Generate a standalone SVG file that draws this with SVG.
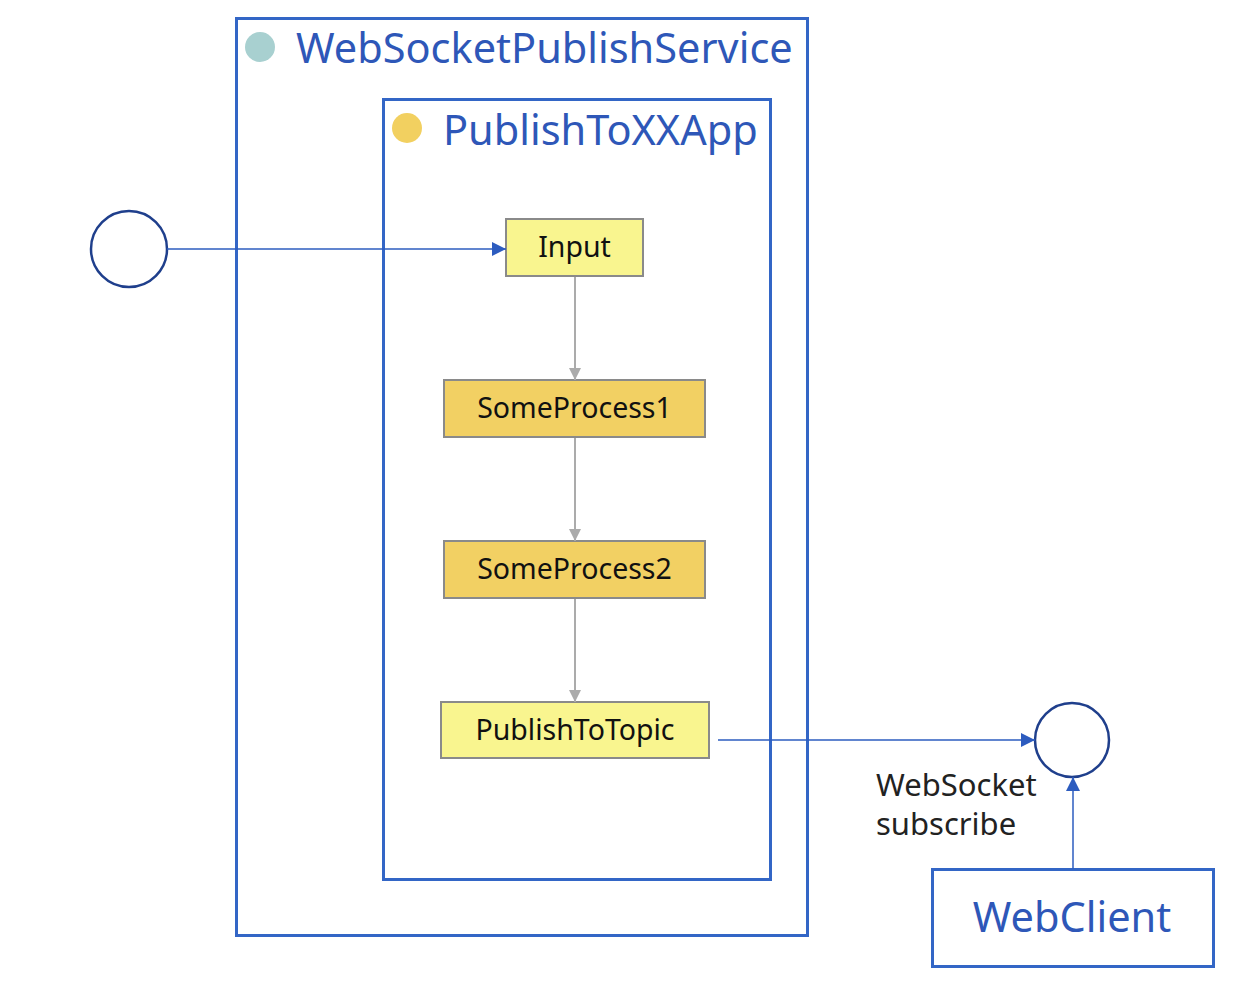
<svg xmlns="http://www.w3.org/2000/svg" width="1250" height="988" viewBox="0 0 1250 988">
<style>
.frame{fill:none;stroke:#3366c6;stroke-width:3}
.title{font-family:"Noto Sans","Open Sans",sans-serif;fill:#2e57b8;font-size:41.5px}
.box{stroke:#8a8a8a;stroke-width:2}
.lbl{font-family:"Noto Sans","Open Sans",sans-serif;font-size:28.5px;fill:#111;text-anchor:middle}
.gray{stroke:#ababab;stroke-width:2;fill:none}
.blue{stroke:#2d5cbf;stroke-width:1.5;fill:none}
.port{fill:#fff;stroke:#1f3f8c;stroke-width:2.5}
.note{font-family:"Noto Sans","Open Sans",sans-serif;font-size:31px;fill:#222}
</style>
<defs>
<marker id="ga" viewBox="0 0 10 10" refX="10" refY="5" markerWidth="14" markerHeight="12" markerUnits="userSpaceOnUse" orient="auto"><path d="M0,0 L10,5 L0,10 z" fill="#ababab"/></marker>
<marker id="ba" viewBox="0 0 10 10" refX="10" refY="5" markerWidth="16" markerHeight="14" markerUnits="userSpaceOnUse" orient="auto"><path d="M0,0 L10,5 L0,10 z" fill="#2d5cbf"/></marker>
</defs>
<g id="service">
<rect class="frame" x="236.5" y="18.5" width="571" height="917"/>
<ellipse cx="260" cy="47" rx="15" ry="15" fill="#a8d0d0"/>
<text class="title" x="296" y="63">WebSocketPublishService</text>
</g>
<g id="app">
<rect class="frame" x="383.5" y="99.5" width="387" height="780"/>
<ellipse cx="407" cy="128" rx="15" ry="15" fill="#f2d060"/>
<text class="title" x="443" y="145">PublishToXXApp</text>
</g>
<g id="input">
<rect class="box" x="506" y="219" width="137" height="57" fill="#f9f58f"/>
<text class="lbl" x="574.5" y="257">Input</text>
</g>
<g id="sp1">
<rect class="box" x="444" y="380" width="261" height="57" fill="#f2d063"/>
<text class="lbl" x="574.5" y="418">SomeProcess1</text>
</g>
<g id="sp2">
<rect class="box" x="444" y="541" width="261" height="57" fill="#f2d063"/>
<text class="lbl" x="574.5" y="579">SomeProcess2</text>
</g>
<g id="publish">
<rect class="box" x="441" y="702" width="268" height="56" fill="#f9f58f"/>
<text class="lbl" x="575" y="740">PublishToTopic</text>
</g>
<g id="inport">
<circle class="port" cx="129" cy="249" r="38"/>
</g>
<g id="outport">
<circle class="port" cx="1072" cy="740" r="37"/>
</g>
<g id="webclient">
<rect class="frame" x="932.5" y="869.5" width="281" height="97"/>
<text class="title" x="1072" y="932" text-anchor="middle">WebClient</text>
</g>
<g id="connectors">
<line class="blue" x1="167" y1="249" x2="506" y2="249" marker-end="url(#ba)"/>
<line class="gray" x1="575" y1="277" x2="575" y2="380" marker-end="url(#ga)"/>
<line class="gray" x1="575" y1="438" x2="575" y2="541" marker-end="url(#ga)"/>
<line class="gray" x1="575" y1="599" x2="575" y2="702" marker-end="url(#ga)"/>
<line class="blue" x1="718" y1="740" x2="1035" y2="740" marker-end="url(#ba)"/>
<line class="blue" x1="1073" y1="869" x2="1073" y2="777" marker-end="url(#ba)"/>
<text class="note" x="876" y="796">WebSocket</text>
<text class="note" x="876" y="835">subscribe</text>
</g>
</svg>
